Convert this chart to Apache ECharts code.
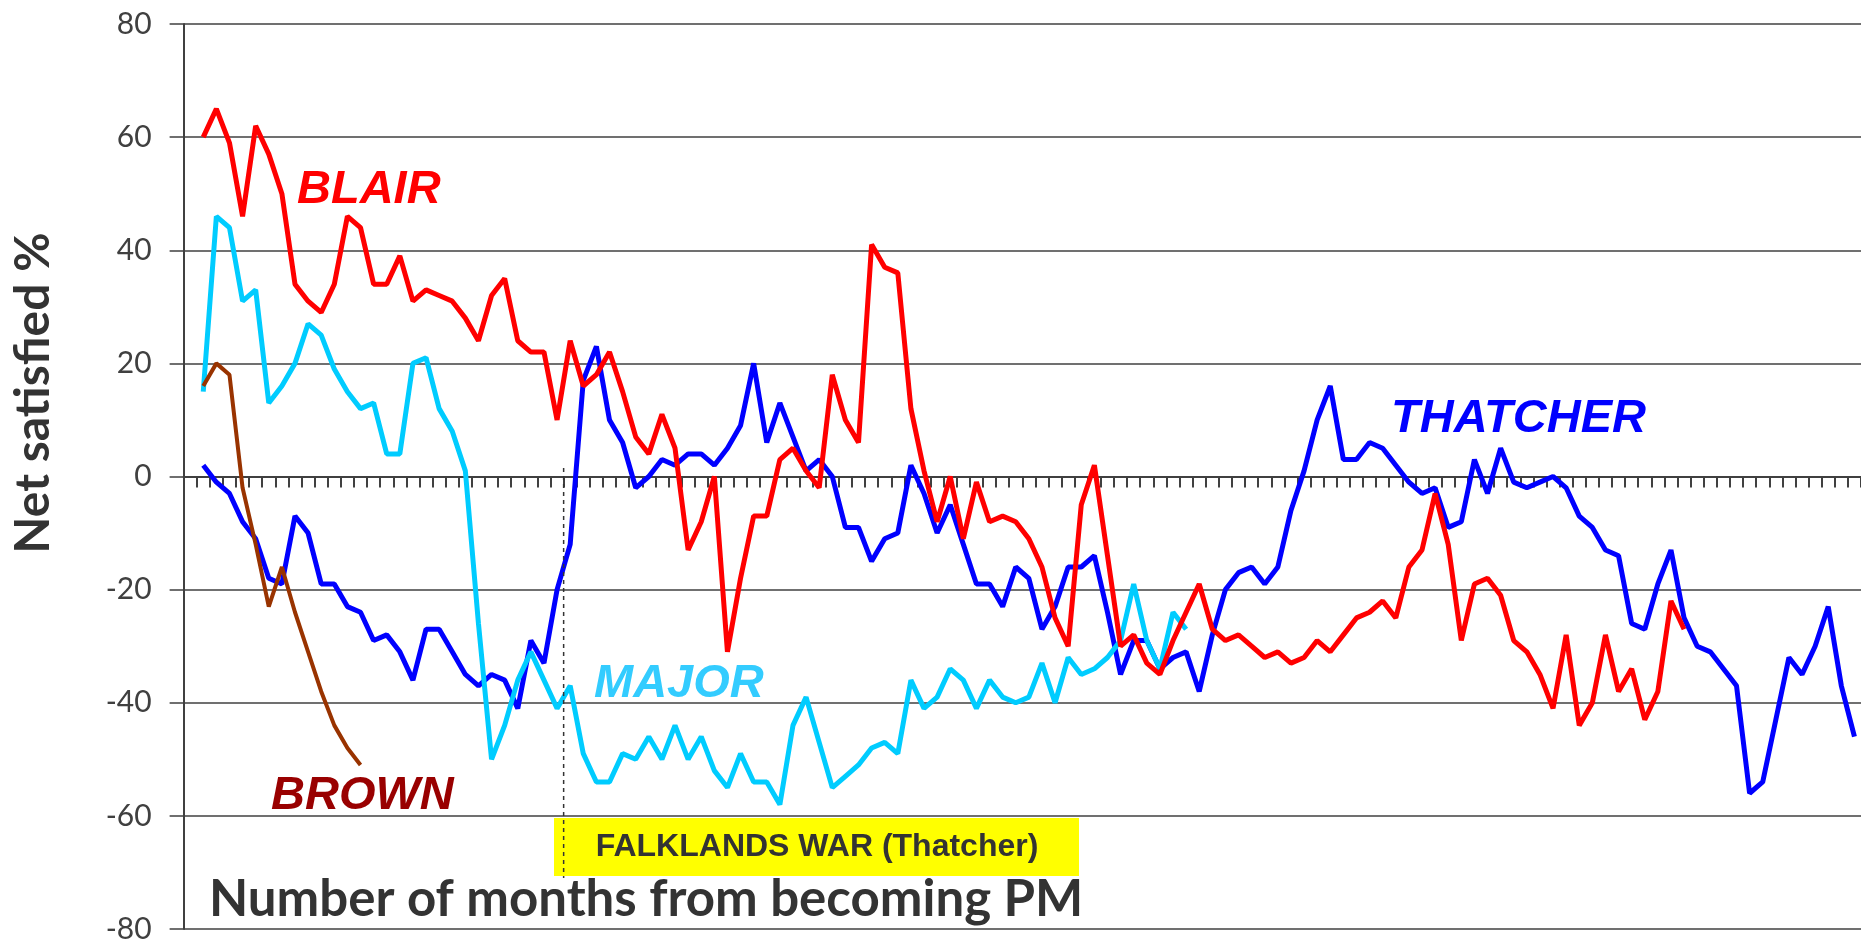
<!DOCTYPE html>
<html><head><meta charset="utf-8">
<script src="https://cdn.jsdelivr.net/npm/echarts@6/dist/echarts.min.js"></script>
<style>html,body{margin:0;padding:0;background:#fff}#c{width:1861px;height:944px}</style>
</head><body><div id="c"></div>
<script>
// Month categories (0 = month becoming PM, left blank)
const months = Array.from({length:128}, (_, i) => String(i));
const yMin = -80, yMax = 80, yStep = 20;

// Net satisfied %, one value per month starting at month 1
const thatcher = [2,-1,-3,-8,-11,-18,-19,-7,-10,-19,
  -19,-23,-24,-29,-28,-31,-36,-27,-27,-31,
  -35,-37,-35,-36,-41,-29,-33,-20,-12,17,
  23,10,6,-2,0,3,2,4,4,2,
  5,9,20,6,13,7,1,3,0,-9,
  -9,-15,-11,-10,2,-3,-10,-5,-12,-19,
  -19,-23,-16,-18,-27,-23,-16,-16,-14,-24,
  -35,-29,-29,-34,-32,-31,-38,-28,-20,-17,
  -16,-19,-16,-6,1,10,16,3,3,6,
  5,2,-1,-3,-2,-9,-8,3,-3,5,
  -1,-2,-1,0,-2,-7,-9,-13,-14,-26,
  -27,-19,-13,-25,-30,-31,-34,-37,-56,-54,
  -43,-32,-35,-30,-23,-37,-46];
const blair = [60,65,59,46,62,57,50,34,31,29,
  34,46,44,34,34,39,31,33,32,31,
  28,24,32,35,24,22,22,10,24,16,
  18,22,15,7,4,11,5,-13,-8,0,
  -31,-18,-7,-7,3,5,1,-2,18,10,
  6,41,37,36,12,1,-8,0,-11,-1,
  -8,-7,-8,-11,-16,-25,-30,-5,2,-14,
  -30,-28,-33,-35,-29,-24,-19,-27,-29,-28,
  -30,-32,-31,-33,-32,-29,-31,-28,-25,-24,
  -22,-25,-16,-13,-3,-12,-29,-19,-18,-21,
  -29,-31,-35,-41,-28,-44,-40,-28,-38,-34,
  -43,-38,-22,-27];
const major = [15,46,44,31,33,13,16,20,27,25,
  19,15,12,13,4,4,20,21,12,8,
  1,-26,-50,-44,-36,-31,-36,-41,-37,-49,
  -54,-54,-49,-50,-46,-50,-44,-50,-46,-52,
  -55,-49,-54,-54,-58,-44,-39,-47,-55,-53,
  -51,-48,-47,-49,-36,-41,-39,-34,-36,-41,
  -36,-39,-40,-39,-33,-40,-32,-35,-34,-32,
  -29,-19,-29,-34,-24,-27];
const brown = [16,20,18,-2,-12,-23,-16,-24,-31,-38,-44,-48,-51];

const falklandsAfterMonth = 28; // dashed line between month 28 and 29

const chart = echarts.init(document.getElementById('c'), null, {renderer:'canvas'});
const axisColor = '#404040';
const pad = arr => [null].concat(arr);

chart.setOption({
  animation:false,
  backgroundColor:'#ffffff',
  grid:{left:183.6, top:24, width:1680.6, height:905},
  xAxis:{
    type:'category', data:months, boundaryGap:true,
    axisLine:{show:true, onZero:true, lineStyle:{color:axisColor, width:2}},
    axisTick:{show:true, interval:0, length:11, lineStyle:{color:axisColor, width:2}},
    axisLabel:{show:false}, splitLine:{show:false}
  },
  yAxis:{
    type:'value', min:yMin, max:yMax, interval:yStep,
    axisLine:{show:true, lineStyle:{color:axisColor, width:2}},
    axisTick:{show:true, length:14, lineStyle:{color:axisColor, width:1.5}},
    axisLabel:{margin:32, color:'#404040', fontSize:30, fontFamily:'Lato, "Open Sans", sans-serif'},
    splitLine:{show:true, lineStyle:{color:axisColor, width:1.5}}
  },
  series:[
    {name:'THATCHER', type:'line', data:pad(thatcher), symbol:'none', connectNulls:false,
     lineStyle:{color:'#0000FF', width:5}, itemStyle:{color:'#0000FF'}, z:2},
    {name:'MAJOR', type:'line', data:pad(major), symbol:'none',
     lineStyle:{color:'#00CCFF', width:5}, itemStyle:{color:'#00CCFF'}, z:3},
    {name:'BROWN', type:'line', data:pad(brown), symbol:'none',
     lineStyle:{color:'#993300', width:4}, itemStyle:{color:'#993300'}, z:4},
    {name:'BLAIR', type:'line', data:pad(blair), symbol:'none',
     lineStyle:{color:'#FF0000', width:5}, itemStyle:{color:'#FF0000'}, z:5}
  ]
});

const xa = chart.convertToPixel({xAxisIndex:0}, falklandsAfterMonth);
const xb = chart.convertToPixel({xAxisIndex:0}, falklandsAfterMonth + 1);
const xm = (xa + xb) / 2;
const yTop = chart.convertToPixel({yAxisIndex:0}, 1.5);
const yBot = chart.convertToPixel({yAxisIndex:0}, -71);

const labelFont = 'italic bold 47px "Liberation Sans", Arial, sans-serif';
function lbl(text, x, y, color){
  return {type:'text', x:x, y:y, z:100, style:{text:text, font:labelFont, fill:color,
    align:'left', textAlign:'left', verticalAlign:'middle', textVerticalAlign:'middle'}};
}
chart.setOption({
  graphic:[
    {type:'rect', z:90, shape:{x:554, y:818, width:525, height:58}, style:{fill:'#FFFF00'}},
    {type:'text', z:100, x:817, y:847, style:{text:'FALKLANDS WAR (Thatcher)',
      font:'bold 32px "Liberation Sans", Arial, sans-serif', fill:'#333333',
      align:'center', textAlign:'center', verticalAlign:'middle', textVerticalAlign:'middle'}},
    {type:'line', z:95, shape:{x1:xm, y1:yTop, x2:xm, y2:yBot},
      style:{stroke:'#333333', lineWidth:1.5, lineDash:[4,4]}},
    lbl('BLAIR', 297, 190, '#FF0000'),
    lbl('THATCHER', 1391, 419, '#0000FF'),
    lbl('MAJOR', 594, 684, '#33CCFF'),
    lbl('BROWN', 271, 796, '#990000'),
    {type:'text', z:100, x:34, y:393, rotation:Math.PI/2, style:{text:'Net satisfied %',
      font:'bold 48px Lato, "Open Sans", sans-serif', fill:'#333333',
      align:'center', textAlign:'center', verticalAlign:'middle', textVerticalAlign:'middle'}},
    {type:'text', z:100, x:209, y:900, style:{text:'Number of months from becoming PM',
      font:'bold 51px Lato, "Open Sans", sans-serif', fill:'#333333',
      align:'left', textAlign:'left', verticalAlign:'middle', textVerticalAlign:'middle'}}
  ]
});
</script>
</body></html>
